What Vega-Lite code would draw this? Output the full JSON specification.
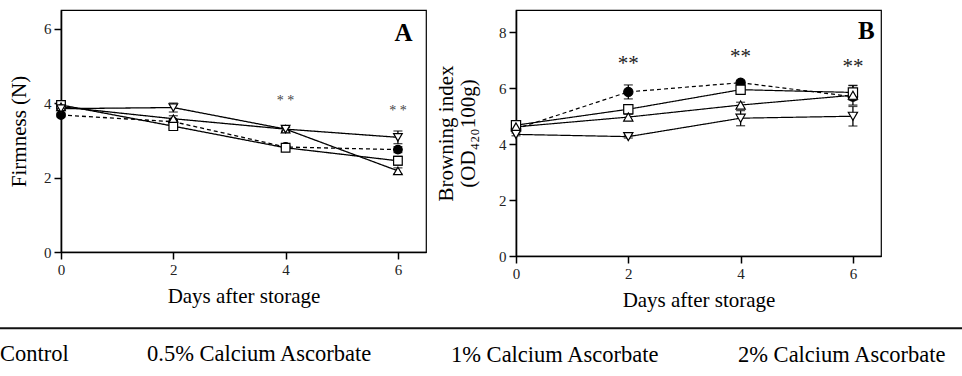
{
  "$schema": "https://vega.github.io/schema/vega-lite/v6.json",
  "autosize": {"type": "none"},
  "padding": {"left": 61, "top": 10, "right": 901, "bottom": 366},
  "background": "white",
  "config": {
    "font": "Liberation Serif",
    "view": {"stroke": "black", "strokeWidth": 1.2},
    "axis": {
      "labelFont": "Liberation Serif", "labelFontSize": 15, "labelColor": "#222",
      "titleFont": "Liberation Serif", "titleFontSize": 21, "titleFontWeight": "normal", "titleColor": "black",
      "domainColor": "black", "domainWidth": 1.6, "tickColor": "black", "tickWidth": 1.5, "tickSize": 7,
      "labelPadding": 3, "grid": false, "labelFlush": false, "labelOverlap": false, "format": "d"
    },
    "legend": {
      "labelFont": "Liberation Serif", "labelFontSize": 22.5, "labelColor": "black", "labelLimit": 400,
      "symbolSize": 841, "symbolStrokeWidth": 1.2, "symbolStrokeColor": "black",
      "labelOffset": 17, "columnPadding": 28, "padding": 0
    }
  },
  "datasets": {
    "series": [
      {"panel": "A", "day": 0, "group": "Control", "value": 3.68, "err": 0.05},
      {"panel": "A", "day": 2, "group": "Control", "value": 3.50, "err": 0.05},
      {"panel": "A", "day": 4, "group": "Control", "value": 2.82, "err": 0.06},
      {"panel": "A", "day": 6, "group": "Control", "value": 2.75, "err": 0.08},
      {"panel": "A", "day": 0, "group": "0.5% Calcium Ascorbate", "value": 3.95, "err": 0.06},
      {"panel": "A", "day": 2, "group": "0.5% Calcium Ascorbate", "value": 3.38, "err": 0.06},
      {"panel": "A", "day": 4, "group": "0.5% Calcium Ascorbate", "value": 2.80, "err": 0.05},
      {"panel": "A", "day": 6, "group": "0.5% Calcium Ascorbate", "value": 2.45, "err": 0.12},
      {"panel": "A", "day": 0, "group": "1% Calcium Ascorbate", "value": 3.90, "err": 0.05},
      {"panel": "A", "day": 2, "group": "1% Calcium Ascorbate", "value": 3.58, "err": 0.08},
      {"panel": "A", "day": 4, "group": "1% Calcium Ascorbate", "value": 3.30, "err": 0.05},
      {"panel": "A", "day": 6, "group": "1% Calcium Ascorbate", "value": 2.18, "err": 0.08},
      {"panel": "A", "day": 0, "group": "2% Calcium Ascorbate", "value": 3.85, "err": 0.05},
      {"panel": "A", "day": 2, "group": "2% Calcium Ascorbate", "value": 3.88, "err": 0.12},
      {"panel": "A", "day": 4, "group": "2% Calcium Ascorbate", "value": 3.30, "err": 0.06},
      {"panel": "A", "day": 6, "group": "2% Calcium Ascorbate", "value": 3.08, "err": 0.17},
      {"panel": "B", "day": 0, "group": "Control", "value": 4.55, "err": 0.10},
      {"panel": "B", "day": 2, "group": "Control", "value": 5.87, "err": 0.25},
      {"panel": "B", "day": 4, "group": "Control", "value": 6.20, "err": 0.08},
      {"panel": "B", "day": 6, "group": "Control", "value": 5.70, "err": 0.12},
      {"panel": "B", "day": 0, "group": "0.5% Calcium Ascorbate", "value": 4.68, "err": 0.08},
      {"panel": "B", "day": 2, "group": "0.5% Calcium Ascorbate", "value": 5.25, "err": 0.10},
      {"panel": "B", "day": 4, "group": "0.5% Calcium Ascorbate", "value": 5.95, "err": 0.10},
      {"panel": "B", "day": 6, "group": "0.5% Calcium Ascorbate", "value": 5.85, "err": 0.25},
      {"panel": "B", "day": 0, "group": "1% Calcium Ascorbate", "value": 4.62, "err": 0.08},
      {"panel": "B", "day": 2, "group": "1% Calcium Ascorbate", "value": 4.97, "err": 0.10},
      {"panel": "B", "day": 4, "group": "1% Calcium Ascorbate", "value": 5.40, "err": 0.10},
      {"panel": "B", "day": 6, "group": "1% Calcium Ascorbate", "value": 5.75, "err": 0.35},
      {"panel": "B", "day": 0, "group": "2% Calcium Ascorbate", "value": 4.35, "err": 0.05},
      {"panel": "B", "day": 2, "group": "2% Calcium Ascorbate", "value": 4.27, "err": 0.05},
      {"panel": "B", "day": 4, "group": "2% Calcium Ascorbate", "value": 4.93, "err": 0.27},
      {"panel": "B", "day": 6, "group": "2% Calcium Ascorbate", "value": 5.00, "err": 0.35}
    ],
    "stars": [
      {"panel": "A", "day": 4, "value": 4.1, "label": "* *"},
      {"panel": "A", "day": 6, "value": 3.84, "label": "* *"},
      {"panel": "B", "day": 2, "value": 7.0, "label": "**"},
      {"panel": "B", "day": 4, "value": 7.25, "label": "**"},
      {"panel": "B", "day": 6, "value": 6.92, "label": "**"}
    ]
  },
  "spacing": 90,
  "bounds": "flush",
  "hconcat": [
    {
      "width": 365,
      "height": 242,
      "layer": [
        {
          "data": {"name": "series"},
          "transform": [{"filter": "datum.panel === 'A'"}],
          "mark": {"type": "line", "color": "black", "strokeWidth": 1.3},
          "encoding": {
            "x": {"field": "day", "type": "quantitative", "title": "Days after storage", "scale": {"domain": [0, 6.5], "nice": false}, "axis": {"values": [0, 2, 4, 6], "titlePadding": 8}},
            "y": {"field": "value", "type": "quantitative", "title": "Firmness (N)", "scale": {"domain": [0, 6.5], "nice": false}, "axis": {"values": [0, 2, 4, 6], "titlePadding": 14}},
            "detail": {"field": "group"},
            "strokeDash": {"field": "group", "type": "nominal", "scale": {"domain": ["Control", "0.5% Calcium Ascorbate", "1% Calcium Ascorbate", "2% Calcium Ascorbate"], "range": [[4, 3], [1, 0], [1, 0], [1, 0]]}},
            "order": {"field": "day"}
          }
        },
        {
          "data": {"name": "series"},
          "transform": [{"filter": "datum.panel === 'A'"}],
          "mark": {"type": "errorbar", "color": "black", "thickness": 1.3, "ticks": {"size": 9, "thickness": 1.3, "color": "black"}},
          "encoding": {
            "x": {"field": "day", "type": "quantitative", "title": "Days after storage"},
            "y": {"field": "value", "type": "quantitative", "title": "Firmness (N)"},
            "yError": {"field": "err"}
          }
        },
        {
          "data": {"name": "series"},
          "transform": [{"filter": "datum.panel === 'A'"}],
          "mark": {"type": "point", "filled": true, "stroke": "black", "strokeWidth": 1.2, "size": 75, "opacity": 1},
          "encoding": {
            "x": {"field": "day", "type": "quantitative", "title": "Days after storage"},
            "y": {"field": "value", "type": "quantitative", "title": "Firmness (N)"},
            "shape": {
              "field": "group", "type": "nominal",
              "scale": {"domain": ["Control", "0.5% Calcium Ascorbate", "1% Calcium Ascorbate", "2% Calcium Ascorbate"], "range": ["circle", "square", "triangle-up", "triangle-down"]},
              "legend": {
                "title": null,
                "orient": "none", "legendX": -109, "legendY": 328, "direction": "horizontal",
                "labelFont": "Liberation Serif",
                "encode": {
                  "symbols": {
                    "shape": {"value": {"expr": "datum.value === 'Control' ? 'circle' : datum.value === '0.5% Calcium Ascorbate' ? 'M-1,0H1M-0.4,-0.3H0.4V0.3H-0.4Z' : datum.value === '1% Calcium Ascorbate' ? 'M-1,0H1M-0.45,0.28L0.45,0.28L0,-0.41Z' : 'M-1,0H1M-0.45,-0.28L0.45,-0.28L0,0.38Z'"}},
                    "fill": {"value": {"expr": "datum.value === 'Control' ? 'black' : 'white'"}},
                    "stroke": {"value": "black"},
                    "strokeWidth": {"value": 1.2},
                    "opacity": {"value": 1}
                  },
                  "labels": {
                    "font": {"value": "Liberation Serif"}
                  }
                }
              }
            },
            "fill": {"field": "group", "type": "nominal", "scale": {"domain": ["Control", "0.5% Calcium Ascorbate", "1% Calcium Ascorbate", "2% Calcium Ascorbate"], "range": ["black", "white", "white", "white"]}}
          }
        },
        {
          "data": {"name": "stars"},
          "transform": [{"filter": "datum.panel === 'A'"}],
          "mark": {"type": "text", "font": "Liberation Serif", "fontSize": 14, "color": "#444", "baseline": "middle", "align": "center", "dy": 2},
          "encoding": {
            "x": {"field": "day", "type": "quantitative", "title": "Days after storage"},
            "y": {"field": "value", "type": "quantitative", "title": "Firmness (N)"},
            "text": {"field": "label"}
          }
        },
        {
          "data": {"values": [{}]},
          "mark": {"type": "text", "font": "Liberation Serif", "fontSize": 25, "fontWeight": "bold", "color": "black", "baseline": "middle", "align": "center"},
          "encoding": {
            "x": {"datum": 6.1, "type": "quantitative"},
            "y": {"datum": 5.87, "type": "quantitative"},
            "text": {"value": "A"}
          }
        },
        {
          "data": {"values": [{}]},
          "mark": {"type": "rule", "clip": false, "color": "#111", "strokeWidth": 2},
          "encoding": {
            "x": {"datum": -1.2, "type": "quantitative"},
            "x2": {"datum": 16.5},
            "y": {"datum": -2.05, "type": "quantitative"}
          }
        }
      ]
    },
    {
      "width": 365,
      "height": 246,
      "layer": [
        {
          "data": {"name": "series"},
          "transform": [{"filter": "datum.panel === 'B'"}],
          "mark": {"type": "line", "color": "black", "strokeWidth": 1.2},
          "encoding": {
            "x": {"field": "day", "type": "quantitative", "title": "Days after storage", "scale": {"domain": [0, 6.5], "nice": false}, "axis": {"values": [0, 2, 4, 6], "titlePadding": 8}},
            "y": {"field": "value", "type": "quantitative", "title": ["Browning index", "(OD₄₂₀100g)"], "scale": {"domain": [0, 8.8], "nice": false}, "axis": {"values": [0, 2, 4, 6, 8], "titlePadding": 20, "titleLineHeight": 22}},
            "detail": {"field": "group"},
            "strokeDash": {"field": "group", "type": "nominal"},
            "order": {"field": "day"}
          }
        },
        {
          "data": {"name": "series"},
          "transform": [{"filter": "datum.panel === 'B'"}],
          "mark": {"type": "errorbar", "color": "black", "thickness": 1.3, "ticks": {"size": 9, "thickness": 1.3, "color": "black"}},
          "encoding": {
            "x": {"field": "day", "type": "quantitative", "title": "Days after storage"},
            "y": {"field": "value", "type": "quantitative", "title": ["Browning index", "(OD₄₂₀100g)"]},
            "yError": {"field": "err"}
          }
        },
        {
          "data": {"name": "series"},
          "transform": [{"filter": "datum.panel === 'B'"}],
          "mark": {"type": "point", "filled": true, "stroke": "black", "strokeWidth": 1.2, "size": 85, "opacity": 1},
          "encoding": {
            "x": {"field": "day", "type": "quantitative", "title": "Days after storage"},
            "y": {"field": "value", "type": "quantitative", "title": ["Browning index", "(OD₄₂₀100g)"]},
            "shape": {"field": "group", "type": "nominal"},
            "fill": {"field": "group", "type": "nominal"}
          }
        },
        {
          "data": {"name": "stars"},
          "transform": [{"filter": "datum.panel === 'B'"}],
          "mark": {"type": "text", "font": "Liberation Serif", "fontSize": 21, "color": "#222", "baseline": "middle", "align": "center", "dy": 4},
          "encoding": {
            "x": {"field": "day", "type": "quantitative", "title": "Days after storage"},
            "y": {"field": "value", "type": "quantitative", "title": ["Browning index", "(OD₄₂₀100g)"]},
            "text": {"field": "label"}
          }
        },
        {
          "data": {"values": [{}]},
          "mark": {"type": "text", "font": "Liberation Serif", "fontSize": 25, "fontWeight": "bold", "color": "black", "baseline": "middle", "align": "center"},
          "encoding": {
            "x": {"datum": 6.24, "type": "quantitative"},
            "y": {"datum": 8.04, "type": "quantitative"},
            "text": {"value": "B"}
          }
        }
      ]
    }
  ]
}
